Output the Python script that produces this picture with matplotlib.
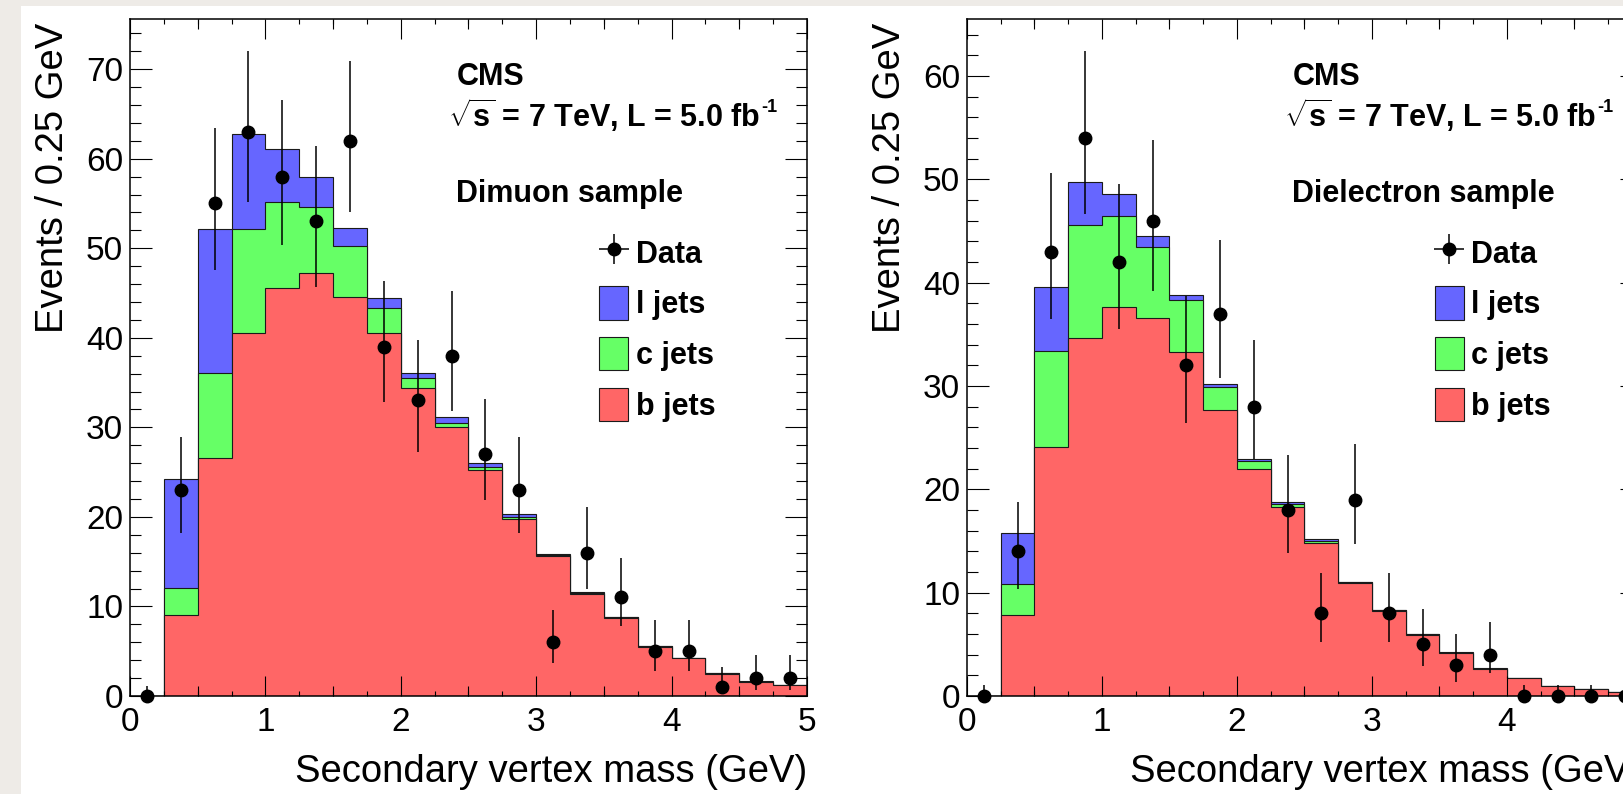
## CMS secondary vertex mass, dimuon and dielectron samples

## Imports

import numpy as np
import matplotlib
matplotlib.use('Agg')
import matplotlib.pyplot as plt
from matplotlib.ticker import MultipleLocator
from matplotlib.patches import Patch, Rectangle
from matplotlib.lines import Line2D

plt.rcParams['font.family'] = ['Liberation Sans', 'DejaVu Sans']
plt.rcParams['mathtext.fontset'] = 'custom'
plt.rcParams['mathtext.rm'] = 'Liberation Sans'
plt.rcParams['mathtext.bf'] = 'Liberation Sans:bold'

## Data: 20 bins of 0.25 GeV from 0 to 5 GeV

edges = np.linspace(0, 5, 21)
centers = 0.5 * (edges[:-1] + edges[1:])

# dimuon sample
mu_b = np.array([0, 9.0, 26.6, 40.5, 45.6, 47.2, 44.6, 40.5, 34.4, 30.0,
                 25.2, 19.8, 15.6, 11.4, 8.7, 5.5, 4.2, 2.5, 1.6, 1.2])
mu_c = np.array([0, 3.1, 9.5, 11.6, 9.6, 7.4, 5.7, 2.8, 1.1, 0.5,
                 0.4, 0.2, 0.2, 0.15, 0.08, 0.05, 0.03, 0.02, 0.01, 0.01])
mu_l = np.array([0, 12.1, 16.0, 10.7, 5.9, 3.4, 2.0, 1.2, 0.6, 0.6,
                 0.4, 0.3, 0.1, 0.1, 0.05, 0.05, 0.02, 0.02, 0.01, 0.01])
mu_data = np.array([0, 23, 55, 63, 58, 53, 62, 39, 33, 38,
                    27, 23, 6, 16, 11, 5, 5, 1, 2, 2])
mu_err_lo = np.array([0, 4.8, 7.4, 7.8, 7.6, 7.3, 7.9, 6.2, 5.7, 6.2,
                      5.1, 4.8, 2.3, 4.0, 3.2, 2.2, 2.2, 0.8, 1.3, 1.3])
mu_err_hi = np.array([1.1, 5.9, 8.4, 9.0, 8.6, 8.4, 8.9, 7.3, 6.8, 7.2,
                      6.2, 5.9, 3.6, 5.1, 4.4, 3.5, 3.5, 2.2, 2.6, 2.6])

# dielectron sample
e_b = np.array([0, 7.8, 24.1, 34.6, 37.6, 36.6, 33.3, 27.7, 22.0, 18.3,
                14.85, 10.95, 8.25, 5.94, 4.19, 2.65, 1.75, 0.98, 0.68, 0.42])
e_c = np.array([0, 3.0, 9.3, 11.0, 8.8, 6.8, 5.0, 2.2, 0.7, 0.3,
                0.15, 0.05, 0.05, 0.03, 0.01, 0.01, 0.01, 0.01, 0.01, 0.0])
e_l = np.array([0, 5.0, 6.2, 4.1, 2.2, 1.1, 0.5, 0.25, 0.2, 0.2,
                0.15, 0.07, 0.05, 0.03, 0.03, 0.02, 0.01, 0.01, 0.01, 0.01])
e_data = np.array([0, 14, 43, 54, 42, 46, 32, 37, 28, 18,
                   8, 19, 8, 5, 3, 4, 0, 0, 0, 0])
e_err_lo = np.array([0, 3.6, 6.5, 7.4, 6.5, 6.8, 5.6, 6.2, 5.1, 4.15,
                     2.8, 4.3, 2.8, 2.1, 1.6, 1.8, 0, 0, 0, 0])
e_err_hi = np.array([1.1, 4.8, 7.6, 8.4, 7.5, 7.8, 6.7, 7.1, 6.4, 5.3,
                     3.9, 5.4, 3.9, 3.4, 3.0, 3.2, 1.1, 1.1, 1.1, 1.1])

## Colours

red = '#ff6666'
green = '#66ff66'
blue = '#6666ff'
edge = '#1a1a1a'

## Figure

W, H = 1624, 794
fig = plt.figure(figsize=(W / 100, H / 100), dpi=100, facecolor='#eeebe7')
fig.add_artist(Rectangle((21 / W, 0), 1, (H - 6) / H, transform=fig.transFigure,
                         facecolor='white', edgecolor='none', zorder=-1))

ax1 = fig.add_axes([130 / W, 98 / H, 677 / W, 677 / H])
ax2 = fig.add_axes([967 / W, 98 / H, 675 / W, 677 / H])


def draw_panel(ax, b, c, l, data, lo, hi, ymax, sample):
    # stacked histograms, drawn from the total down
    ax.stairs(b + c + l, edges, fill=True, facecolor=blue, edgecolor=edge, lw=0.8)
    ax.stairs(b + c, edges, fill=True, facecolor=green, edgecolor=edge, lw=0.8)
    ax.stairs(b, edges, fill=True, facecolor=red, edgecolor=edge, lw=0.8)

    ax.errorbar(centers, data, yerr=[lo, hi], fmt='o', color='k', ms=9,
                elinewidth=1.1, capsize=0, zorder=4, clip_on=False)

    ax.set_xlim(0, 5)
    ax.set_ylim(0, ymax)

    ax.xaxis.set_major_locator(MultipleLocator(1))
    ax.xaxis.set_minor_locator(MultipleLocator(0.25))
    ax.yaxis.set_major_locator(MultipleLocator(10))
    ax.yaxis.set_minor_locator(MultipleLocator(2))
    ax.tick_params(which='both', direction='in', top=True, right=True, width=0.8)
    ax.tick_params(axis='x', which='major', length=14.4, labelsize=24, pad=8)
    ax.tick_params(axis='x', which='minor', length=3.6)
    ax.tick_params(axis='y', which='major', length=15.8, labelsize=24, pad=5)
    ax.tick_params(axis='y', which='minor', length=7.9)
    for s in ax.spines.values():
        s.set_linewidth(1.1)

    # medium ticks at the half GeV marks
    for loc in ['bottom', 'top']:
        sec = ax.secondary_xaxis(loc)
        sec.set_xticks(np.arange(0.5, 5, 1))
        sec.tick_params(direction='in', length=7.2, width=0.8,
                        labelbottom=False, labeltop=False)
        sec.spines[loc].set_visible(False)
        sec.set_zorder(3)

    ax.set_xlabel('Secondary vertex mass (GeV)', fontsize=27.5, loc='right')
    ax.xaxis.label.set_va('baseline')
    ax.xaxis.set_label_coords(1.0, -0.127)
    ax.set_ylabel('Events / 0.25 GeV', fontsize=27.5, loc='top')
    ax.yaxis.set_label_coords(-0.087, 0.994)

    ax.text(0.482, 0.9025, 'CMS', transform=ax.transAxes, fontsize=22,
            weight='bold', va='baseline')
    t = ax.text(0.470, 0.840, r'$\sqrt{\mathbf{s}}$ = 7 TeV, L = 5.0 fb',
                transform=ax.transAxes, fontsize=22, weight='bold', va='baseline')
    ax.annotate('-1', xy=(1, 0.93), xycoords=t, xytext=(0.5, 0),
                textcoords='offset points', fontsize=13, weight='bold',
                ha='left', va='top')
    ax.text(0.482, 0.730, sample, transform=ax.transAxes, fontsize=22,
            weight='bold', va='baseline')

    data_h = (Line2D([], [], marker='+', ms=21, mew=1.1, color='k', ls=''),
              Line2D([], [], marker='o', ms=9, color='k', ls=''))
    handles = [data_h,
               Patch(facecolor=blue, edgecolor=edge, lw=0.8),
               Patch(facecolor=green, edgecolor=edge, lw=0.8),
               Patch(facecolor=red, edgecolor=edge, lw=0.8)]
    ax.legend(handles, ['Data', 'l jets', 'c jets', 'b jets'], loc='upper left',
              bbox_to_anchor=(0.693, 0.680), frameon=False,
              prop={'weight': 'bold', 'size': 22},
              handlelength=0.95, handleheight=1.3, handletextpad=0.25,
              labelspacing=0.55, borderpad=0, borderaxespad=0)


draw_panel(ax1, mu_b, mu_c, mu_l, mu_data, mu_err_lo, mu_err_hi, 75.6, 'Dimuon sample')
draw_panel(ax2, e_b, e_c, e_l, e_data, e_err_lo, e_err_hi, 65.5, 'Dielectron sample')

plt.savefig('out.png', dpi=100, facecolor=fig.get_facecolor())
